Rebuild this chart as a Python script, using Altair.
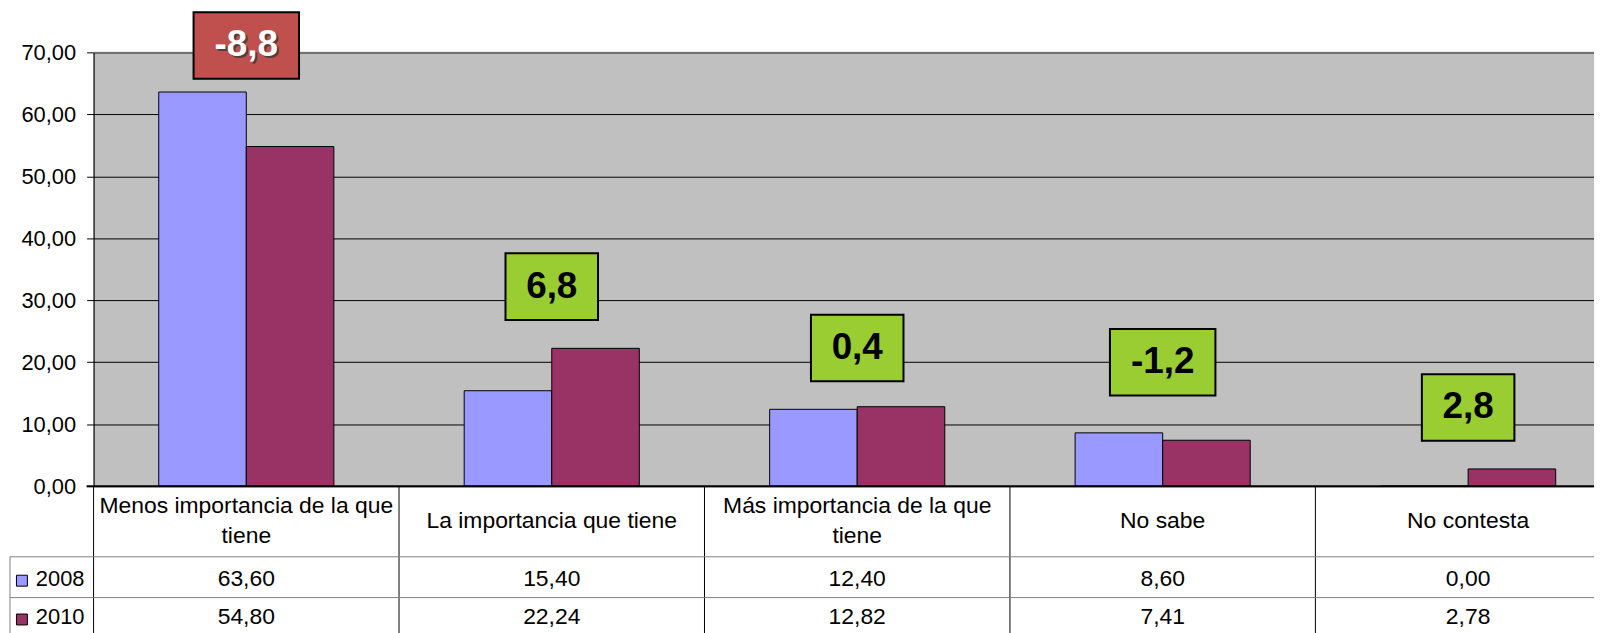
import altair as alt
import pandas as pd

# ---- data ----
categories = [
    "Menos importancia de la que\ntiene",
    "La importancia que tiene",
    "Más importancia de la que\ntiene",
    "No sabe",
    "No contesta",
]
years = ["2008", "2010"]
values_2008 = [63.60, 15.40, 12.40, 8.60, 0.00]
values_2010 = [54.80, 22.24, 12.82, 7.41, 2.78]
change_values = [-8.8, 6.8, 0.4, -1.2, 2.8]
change_label_y = [71.1, 32.2, 22.3, 20.0, 12.7]
y_ticks = [0, 10, 20, 30, 40, 50, 60, 70]

FONT = "Liberation Sans"
C2008 = "#9999FF"
C2010 = "#993366"
RED = "#C0504D"
GREEN = "#9ACD32"

def es(v, d):
    return f"{v:.{d}f}".replace(".", ",")

rows = []
for c, a, b in zip(categories, values_2008, values_2010):
    rows.append({"cat": c, "year": "2008", "value": a, "txt": es(a, 2)})
    rows.append({"cat": c, "year": "2010", "value": b, "txt": es(b, 2)})
bars_df = pd.DataFrame(rows)

labels_df = pd.DataFrame({
    "cat": categories,
    "diff": change_values,
    "ly": change_label_y,
    "lab": [es(v, 1) for v in change_values],
})
cats_df = pd.DataFrame({"cat": categories})
one = pd.DataFrame({"k": [0]})
years_df = pd.DataFrame({"year": years})

W = 1508
H = 436
STEP = 307
BAR_W = 88
TFS = 23  # table font size

xcat = alt.X("cat:N", sort=categories, axis=None,
             scale=alt.Scale(range=[0, 5 * STEP], paddingInner=0, paddingOuter=0))
color = alt.Color("year:N", scale=alt.Scale(domain=years, range=[C2008, C2010]), legend=None)

yaxis = alt.Axis(
    values=y_ticks,
    labelExpr="replace(format(datum.value, '.2f'), '.', ',')",
    grid=True,
    gridColor="#000000",
    gridWidth=1,
    tickSize=7,
    tickColor="#000000",
    labelPadding=11,
    labelFontSize=22,
    labelFont=FONT,
    labelColor="#000000",
    domainColor="#000000",
    title=None,
)
yval = alt.Y("value:Q", scale=alt.Scale(domain=[0, 70], nice=False), axis=yaxis)

bars08 = alt.Chart(bars_df).transform_filter("datum.year == '2008'").mark_bar(
    stroke="#000000", strokeWidth=1, width=BAR_W, xOffset=-BAR_W / 2
).encode(x=xcat, y=yval, color=color)
bars10 = alt.Chart(bars_df).transform_filter("datum.year == '2010'").mark_bar(
    stroke="#000000", strokeWidth=1, width=BAR_W, xOffset=BAR_W / 2
).encode(x=xcat, y=yval, color=color)

baseline = alt.Chart(one).mark_rule(color="#000000", strokeWidth=2).encode(
    y=alt.datum(0), x=alt.value(-7), x2=alt.value(W)
)
topline = alt.Chart(one).mark_rule(color="#808080", strokeWidth=1).encode(
    y=alt.datum(70), x=alt.value(0), x2=alt.value(W)
)

vlines = alt.Chart(cats_df).mark_rule(color="#000000", strokeWidth=1, xOffset=-STEP / 2).encode(
    x=xcat, y=alt.value(H), y2=alt.value(600),
)

row1 = alt.Chart(one).mark_rule(color="#808080", strokeWidth=1).encode(
    x=alt.value(-84), x2=alt.value(W), y=alt.value(507))
row2 = alt.Chart(one).mark_rule(color="#808080", strokeWidth=1).encode(
    x=alt.value(-84), x2=alt.value(W), y=alt.value(548))
lborder = alt.Chart(one).mark_rule(color="#808080", strokeWidth=1).encode(
    x=alt.value(-84), y=alt.value(507), y2=alt.value(600))

header1 = alt.Chart(cats_df).transform_filter(
    "indexof(datum.cat, '\\n') < 0"
).mark_text(
    font=FONT, fontSize=TFS, color="#000000", baseline="middle", align="center",
).encode(x=xcat, y=alt.value(471), text="cat:N")
header2 = alt.Chart(cats_df).transform_filter(
    "indexof(datum.cat, '\\n') >= 0"
).mark_text(
    font=FONT, fontSize=TFS, lineBreak="\n", lineHeight=30, color="#000000",
    baseline="middle", align="center",
).encode(x=xcat, y=alt.value(456), text="cat:N")

t2008 = alt.Chart(bars_df).transform_filter("datum.year == '2008'").mark_text(
    font=FONT, fontSize=TFS, color="#000000", baseline="middle", align="center",
).encode(x=xcat, y=alt.value(529), text="txt:N")
t2010 = alt.Chart(bars_df).transform_filter("datum.year == '2010'").mark_text(
    font=FONT, fontSize=TFS, color="#000000", baseline="middle", align="center",
).encode(x=xcat, y=alt.value(568), text="txt:N")

sw2008 = alt.Chart(years_df).transform_filter("datum.year == '2008'").mark_square(
    size=121, opacity=1, stroke="#000000", strokeWidth=1, filled=True
).encode(x=alt.value(-72), y=alt.value(531), color=color)
sw2010 = alt.Chart(years_df).transform_filter("datum.year == '2010'").mark_square(
    size=121, opacity=1, stroke="#000000", strokeWidth=1, filled=True
).encode(x=alt.value(-72), y=alt.value(570), color=color)
ly2008 = alt.Chart(years_df).transform_filter("datum.year == '2008'").mark_text(
    font=FONT, fontSize=22, color="#000000", align="left", baseline="middle"
).encode(x=alt.value(-58), y=alt.value(529), text="year:N")
ly2010 = alt.Chart(years_df).transform_filter("datum.year == '2010'").mark_text(
    font=FONT, fontSize=22, color="#000000", align="left", baseline="middle"
).encode(x=alt.value(-58), y=alt.value(568), text="year:N")

box_fill = alt.condition("datum.diff < -5", alt.value(RED), alt.value(GREEN))
narrow = "M-1,-0.72L1,-0.72L1,0.72L-1,0.72Z"
wide = "M-1,-0.632L1,-0.632L1,0.632L-1,0.632Z"
box_n = alt.Chart(labels_df).transform_filter("datum.diff >= 0").mark_point(
    shape=narrow, size=93 * 93, filled=True, opacity=1, stroke="#000000", strokeWidth=2
).encode(x=xcat, y=alt.Y("ly:Q"), fill=box_fill)
box_w = alt.Chart(labels_df).transform_filter("datum.diff < 0").mark_point(
    shape=wide, size=106 * 106, filled=True, opacity=1, stroke="#000000", strokeWidth=2
).encode(x=xcat, y=alt.Y("ly:Q"), fill=box_fill)

shadow = alt.Chart(labels_df).transform_filter("datum.diff < -5").mark_text(
    font=FONT, fontSize=37, fontWeight="bold", color="#3a3a3a", opacity=0.8,
    baseline="middle", align="center", dx=2, dy=2,
).encode(x=xcat, y=alt.Y("ly:Q"), text="lab:N")
btext = alt.Chart(labels_df).mark_text(
    font=FONT, fontSize=37, fontWeight="bold", baseline="middle", align="center",
).encode(
    x=xcat, y=alt.Y("ly:Q"), text="lab:N",
    color=alt.condition("datum.diff < -5", alt.value("#FFFFFF"), alt.value("#000000")),
)

chart = alt.layer(
    bars08, bars10, baseline, topline, vlines, row1, row2, lborder, header1, header2,
    t2008, t2010, sw2008, sw2010, ly2008, ly2010, box_n, box_w, shadow, btext,
).properties(
    width=W, height=H,
    autosize="none",
    padding={"left": 86, "top": 43, "right": 0, "bottom": 146},
    background="#FFFFFF",
).configure_view(
    fill="#C0C0C0", stroke="#808080", strokeWidth=1
)

chart.save("out.html", embed_options={"renderer": "svg", "actions": False})
